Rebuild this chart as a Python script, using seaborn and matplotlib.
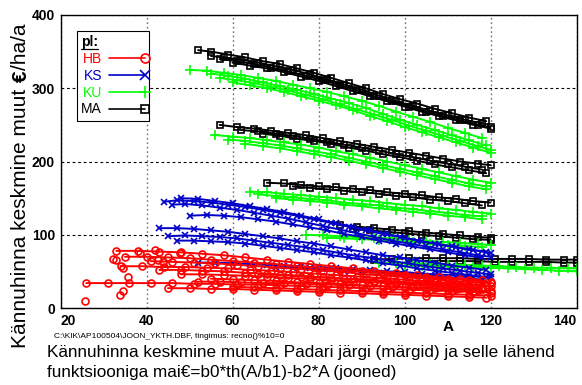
import numpy as np
import pandas as pd
import matplotlib
matplotlib.use("Agg")
import matplotlib.pyplot as plt
from matplotlib.lines import Line2D
from matplotlib.legend_handler import HandlerLine2D
import seaborn as sns

# ---------------------------------------------------------------------------
# Stand-level stump price change (EUR/ha/a) by age A, one list entry per stand:
# (ages, values)
# ---------------------------------------------------------------------------
MA_lines = [
    ([52, 55, 59, 63, 67, 71, 75, 79, 83, 87, 91, 95, 99, 103, 107, 111, 115, 119],
     [352, 350, 346, 342, 337, 333, 327, 321, 314, 307, 300, 292, 285, 279, 272, 266, 260, 255]),
    ([55, 58, 62, 66, 70, 74, 78, 82, 86, 90, 94, 98, 102, 106, 110, 114, 118],
     [344, 342, 339, 335, 330, 325, 319, 312, 305, 298, 290, 282, 276, 269, 263, 257, 252]),
    ([57, 61, 65, 69, 73, 77, 81, 85, 89, 93, 97, 101, 105, 109, 113, 117, 120],
     [340, 337, 333, 328, 323, 317, 311, 304, 297, 289, 282, 275, 268, 262, 256, 250, 247]),
    ([60, 64, 68, 72, 76, 80, 84, 88, 92, 96, 100, 104, 108, 112, 116, 120],
     [335, 331, 327, 322, 316, 310, 303, 296, 289, 282, 275, 268, 262, 256, 250, 245]),
    ([57, 61, 65, 69, 73, 77, 81, 85, 89, 93, 97, 101, 105, 109, 113, 117, 120],
     [250, 247, 245, 242, 239, 236, 232, 228, 224, 220, 216, 212, 208, 204, 200, 197, 195]),
    ([62, 66, 70, 74, 78, 82, 86, 90, 94, 98, 102, 106, 110, 114, 118],
     [243, 241, 238, 235, 231, 227, 223, 219, 215, 210, 206, 201, 197, 193, 189]),
    ([67, 71, 75, 79, 83, 87, 91, 95, 99, 103, 107, 111, 115, 119],
     [238, 235, 231, 228, 224, 219, 215, 210, 206, 201, 196, 192, 188, 184]),
    ([68, 72, 76, 80, 84, 88, 92, 96, 100, 104, 108, 112, 116, 120],
     [171, 170, 168, 166, 165, 163, 161, 158, 156, 154, 151, 149, 146, 144]),
    ([74, 78, 82, 86, 90, 94, 98, 102, 106, 110, 114, 118],
     [166, 164, 162, 160, 158, 156, 153, 151, 148, 146, 143, 140]),
    ([85, 89, 93, 97, 101, 105, 109, 113, 117, 120],
     [113, 111, 109, 107, 105, 103, 101, 99, 97, 96]),
    ([88, 92, 96, 100, 104, 108, 112, 116, 120],
     [108, 106, 104, 102, 100, 98, 96, 94, 93]),
    ([93, 97, 101, 105, 109, 113, 117, 121, 125, 129, 133, 137, 140],
     [66, 67, 68, 68, 68, 68, 67, 67, 67, 67, 66, 66, 66]),
    ([105, 109, 113, 117, 121, 125, 129, 133, 137, 140],
     [64, 64, 64, 64, 63, 63, 63, 63, 62, 62]),
]

KU_lines = [
    ([50, 54, 58, 62, 66, 70, 74, 78, 82, 86, 90, 94, 98, 102, 106, 110, 114, 118],
     [325, 324, 321, 318, 314, 310, 305, 300, 295, 289, 283, 276, 268, 261, 254, 246, 239, 232]),
    ([55, 59, 63, 67, 71, 75, 79, 83, 87, 91, 95, 99, 103, 107, 111, 115, 119],
     [320, 317, 313, 308, 303, 298, 292, 286, 280, 273, 265, 257, 250, 243, 236, 229, 222]),
    ([57, 61, 65, 69, 73, 77, 81, 85, 89, 93, 97, 101, 105, 109, 113, 117, 120],
     [314, 311, 307, 302, 297, 291, 285, 278, 271, 264, 257, 249, 242, 235, 228, 221, 216]),
    ([60, 64, 68, 72, 76, 80, 84, 88, 92, 96, 100, 104, 108, 112, 116, 120],
     [308, 304, 300, 295, 289, 283, 277, 270, 262, 255, 247, 240, 233, 226, 219, 212]),
    ([56, 60, 64, 68, 72, 76, 80, 84, 88, 92, 96, 100, 104, 108, 112, 116, 120],
     [236, 234, 232, 229, 226, 223, 219, 214, 210, 205, 200, 195, 190, 185, 180, 175, 171]),
    ([59, 63, 67, 71, 75, 79, 83, 87, 91, 95, 99, 103, 107, 111, 115, 119],
     [230, 228, 225, 222, 218, 214, 210, 205, 200, 195, 190, 185, 180, 175, 170, 166]),
    ([63, 67, 71, 75, 79, 83, 87, 91, 95, 99, 103, 107, 111, 115, 119],
     [224, 221, 218, 214, 210, 206, 201, 196, 191, 186, 181, 176, 171, 166, 162]),
    ([64, 68, 72, 76, 80, 84, 88, 92, 96, 100, 104, 108, 112, 116, 120],
     [159, 158, 156, 154, 152, 150, 148, 146, 143, 141, 139, 136, 134, 131, 129]),
    ([66, 70, 74, 78, 82, 86, 90, 94, 98, 102, 106, 110, 114, 118],
     [155, 153, 151, 149, 147, 144, 142, 140, 137, 135, 132, 130, 127, 125]),
    ([70, 74, 78, 82, 86, 90, 94, 98, 102, 106, 110, 114, 118],
     [150, 148, 146, 144, 141, 139, 136, 134, 131, 129, 126, 124, 121]),
    ([77, 81, 85, 89, 93, 97, 101, 105, 109, 113, 117, 120],
     [100, 99, 98, 97, 96, 95, 93, 92, 90, 89, 87, 86]),
    ([82, 86, 90, 94, 98, 102, 106, 110, 114, 118],
     [96, 95, 94, 93, 91, 90, 88, 86, 85, 83]),
    ([94, 98, 102, 106, 110, 114, 118, 122, 126, 130, 134, 138, 140],
     [62, 61, 61, 60, 59, 59, 58, 57, 56, 55, 55, 54, 54]),
    ([100, 104, 108, 112, 116, 120, 124, 128, 132, 136, 140],
     [58, 58, 57, 56, 56, 55, 54, 53, 52, 51, 50]),
]

KS_lines = [
    ([44, 47, 51, 55, 59, 63, 67, 71, 75, 79, 83, 87, 91, 95, 99, 103, 107, 111, 115, 119],
     [145, 147, 146, 144, 141, 138, 134, 130, 126, 121, 116, 111, 106, 101, 97, 92, 88, 84, 80, 77]),
    ([46, 49, 53, 57, 61, 65, 69, 73, 77, 81, 85, 89, 93, 97, 101, 105, 109, 113, 117, 120],
     [141, 142, 140, 137, 134, 130, 126, 122, 117, 112, 107, 102, 97, 92, 88, 84, 80, 76, 72, 70]),
    ([50, 54, 58, 62, 66, 70, 74, 78, 82, 86, 90, 94, 98, 102, 106, 110, 114, 118],
     [126, 127, 126, 124, 121, 118, 114, 110, 106, 101, 97, 92, 88, 84, 80, 76, 72, 69]),
    ([48, 52, 56, 60, 64, 68, 72, 76, 80, 84, 88, 92, 96, 100, 104, 108, 112, 116, 120],
     [150, 149, 146, 143, 139, 135, 131, 126, 121, 116, 111, 106, 101, 96, 91, 87, 83, 79, 75]),
    ([43, 47, 51, 55, 59, 63, 67, 71, 75, 79, 83, 87, 91, 95, 99, 103, 107, 111, 115, 119],
     [109, 109, 108, 106, 104, 101, 98, 95, 91, 88, 84, 80, 76, 72, 69, 65, 62, 58, 55, 52]),
    ([45, 49, 53, 57, 61, 65, 69, 73, 77, 81, 85, 89, 93, 97, 101, 105, 109, 113, 117, 120],
     [98, 99, 98, 97, 95, 92, 89, 86, 83, 79, 75, 71, 68, 64, 61, 57, 54, 51, 48, 46]),
    ([47, 51, 55, 59, 63, 67, 71, 75, 79, 83, 87, 91, 95, 99, 103, 107, 111, 115, 119],
     [92, 92, 91, 90, 88, 85, 82, 79, 76, 72, 69, 65, 61, 58, 54, 51, 48, 45, 42]),
    ([52, 56, 60, 64, 68, 72, 76, 80, 84, 88, 92, 96, 100, 104, 108, 112, 116, 120],
     [62, 62, 61, 60, 59, 58, 57, 55, 54, 53, 52, 50, 49, 47, 46, 44, 43, 42]),
    ([70, 74, 78, 82, 86, 90, 94, 98, 102, 106, 110, 114, 118],
     [56, 55, 54, 53, 51, 50, 48, 47, 45, 44, 42, 40, 39]),
]

HB_lines = [
    ([33, 38, 43, 48, 53, 58, 63, 68, 73, 78, 83, 88, 93, 98, 103, 108, 113, 118],
     [78, 78, 77, 76, 74, 72, 69, 66, 63, 60, 57, 54, 51, 48, 45, 42, 40, 38]),
    ([35, 40, 45, 50, 55, 60, 65, 70, 75, 80, 85, 90, 95, 100, 105, 110, 115, 120],
     [70, 70, 69, 68, 66, 64, 62, 60, 57, 55, 52, 50, 47, 45, 42, 40, 38, 36]),
    ([41, 46, 51, 56, 61, 66, 71, 76, 81, 86, 91, 96, 101, 106, 111, 116, 120],
     [64, 63, 62, 61, 59, 57, 55, 53, 51, 49, 46, 44, 42, 40, 37, 35, 34]),
    ([34, 39, 44, 49, 54, 59, 64, 69, 74, 79, 84, 89, 94, 99, 104, 109, 114, 119],
     [57, 57, 56, 56, 55, 54, 52, 51, 49, 47, 45, 43, 41, 39, 37, 35, 33, 31]),
    ([43, 48, 53, 58, 63, 68, 73, 78, 83, 88, 93, 98, 103, 108, 113, 118],
     [52, 52, 51, 50, 48, 47, 45, 43, 41, 39, 37, 35, 33, 31, 29, 28]),
    ([48, 53, 58, 63, 68, 73, 78, 83, 88, 93, 98, 103, 108, 113, 118],
     [46, 46, 45, 44, 43, 41, 40, 38, 36, 35, 33, 31, 29, 27, 26]),
    ([26, 31, 36, 41, 46, 51, 56, 61, 66, 71, 76, 81, 86, 91, 96, 101, 106, 111, 116, 120],
     [34, 34, 34, 34, 34, 33, 33, 32, 32, 31, 30, 29, 28, 27, 26, 25, 24, 23, 22, 21]),
    ([55, 60, 65, 70, 75, 80, 85, 90, 95, 100, 105, 110, 115, 120],
     [40, 39, 38, 37, 35, 34, 33, 31, 30, 28, 27, 25, 24, 23]),
    ([60, 65, 70, 75, 80, 85, 90, 95, 100, 105, 110, 115, 120],
     [29, 28, 27, 26, 25, 24, 23, 22, 21, 20, 19, 18, 17]),
    ([45, 50, 55, 60, 65, 70, 75, 80, 85, 90, 95, 100, 105, 110, 115, 119],
     [27, 27, 26, 26, 25, 24, 23, 22, 21, 20, 19, 18, 17, 16, 15, 14]),
    ([66, 71, 76, 81, 86, 91, 96, 101, 106, 111, 116, 120],
     [46, 45, 43, 42, 40, 39, 37, 35, 34, 32, 31, 30]),
    ([52, 57, 62, 67, 72, 77, 82, 87, 92, 97, 102, 107, 112, 117],
     [36, 36, 35, 34, 34, 33, 32, 31, 30, 29, 28, 27, 26, 25]),
]

# single HB measurements of young stands (no fitted line)
HB_points_A = [25.7, 32.3, 32.8, 33.8, 34.6, 34.6, 35.8, 42.0, 38.5, 42.7, 43.8, 47.8]
HB_points_V = [9.5, 67, 65, 18, 23, 54, 42, 79, 75, 65, 63, 75]

species = ["HB", "KS", "KU", "MA"]
colors = {"HB": "#ff0000", "KS": "#0000c8", "KU": "#00ff00", "MA": "#000000"}
markers = {"HB": "o", "KS": "x", "KU": "+", "MA": "s"}
msizes = {"HB": 5, "KS": 5, "KU": 7, "MA": 4.8}

# long table: one row per measurement, 'unit' separates the stands
rows = []
unit = 0
for sp, lines in [("MA", MA_lines), ("KU", KU_lines), ("KS", KS_lines), ("HB", HB_lines)]:
    for ages, vals in lines:
        for a, v in zip(ages, vals):
            rows.append((sp, unit, a, v))
        unit += 1
for a, v in zip(HB_points_A, HB_points_V):
    rows.append(("HB", unit, a, v))
    unit += 1
df = pd.DataFrame(rows, columns=["pl", "unit", "A", "V"])

sns.set_theme(style="white")
plt.rcParams["font.family"] = ["Liberation Sans", "DejaVu Sans"]
plt.rcParams["text.color"] = "black"

fig = plt.figure(figsize=(5.82, 3.85), dpi=100)
fig.patch.set_facecolor("white")
ax = fig.add_axes([60.5 / 582, 1 - 308 / 385, 516 / 582, 293 / 385])

for sp in ["MA", "KU", "KS", "HB"]:
    c = colors[sp]
    sns.lineplot(data=df[df["pl"] == sp], x="A", y="V", units="unit", estimator=None,
                 sort=False, color=c, marker=markers[sp], ms=msizes[sp],
                 mfc="none", mec=c, mew=1.2, lw=1.4, legend=False, ax=ax)

ax.set_xlim(20, 140)
ax.set_ylim(0, 400)
ax.set_xticks([20, 40, 60, 80, 100, 120, 140])
ax.set_yticks([0, 100, 200, 300, 400])
ax.set_xlabel("")
ax.set_ylabel("")
ax.tick_params(length=0, labelsize=10, pad=4, colors="black")
for lab in ax.get_xticklabels() + ax.get_yticklabels():
    lab.set_fontweight("bold")
xl = ax.get_xticklabels()
xl[0].set_horizontalalignment("left")
xl[-1].set_horizontalalignment("right")

ax.set_axisbelow(True)
ax.xaxis.grid(True, color="#707070", linestyle=(0, (1.2, 2.0)), lw=1.0)
ax.yaxis.grid(True, color="black", linestyle=(0, (2.5, 2.5)), lw=0.8)
for s in ax.spines.values():
    s.set_color("black")
    s.set_linewidth(1.0)


class EndMarkerHandler(HandlerLine2D):
    """Legend handle: a line with the marker drawn at its right end."""

    def create_artists(self, legend, orig_handle, xdescent, ydescent, width,
                       height, fontsize, trans):
        xdata = np.array([-xdescent, -xdescent + width])
        ydata = np.full(2, (height - ydescent) / 2)
        c = orig_handle.get_color()
        line = Line2D(xdata, ydata, color=c, lw=orig_handle.get_linewidth())
        mark = Line2D([xdata[-1]], [ydata[0]], ls="none",
                      marker=orig_handle.get_marker(),
                      ms=orig_handle.get_markersize() * 1.3,
                      mfc="none", mec=c, mew=1.2)
        line.set_transform(trans)
        mark.set_transform(trans)
        return [line, mark]


handles = [Line2D([], [], color=colors[s], marker=markers[s], lw=1.2,
                  ms=msizes[s], mfc="none", mec=colors[s]) for s in species]
leg = ax.legend(handles, species, loc="upper left", bbox_to_anchor=(0.032, 0.945),
                borderaxespad=0, title="pl:", alignment="left",
                title_fontproperties={"weight": "bold", "size": 10},
                fontsize=10, markerfirst=False, handlelength=2.6,
                handletextpad=0.5, labelspacing=0.2, borderpad=0.3,
                fancybox=False, framealpha=1, edgecolor="black",
                labelcolor=[colors[s] for s in species],
                handler_map={Line2D: EndMarkerHandler()})
leg.get_frame().set_linewidth(0.8)
leg.get_title().set_color("black")

fig.text(448 / 582, 1 - 327 / 385, "A", ha="center", va="center",
         fontsize=11, fontweight="bold")
fig.text(54 / 582, 1 - 336 / 385,
         r"C:\KIK\AP100504\JOON_YKTH.DBF, tingimus: recno()%10=0",
         ha="left", va="center", fontsize=6)
fig.text(47 / 582, 1 - 352 / 385,
         "Kännuhinna keskmine muut A. Padari järgi (märgid) ja selle lähend",
         ha="left", va="center", fontsize=12.3)
fig.text(47 / 582, 1 - 373 / 385,
         "funktsiooniga mai€=b0*th(A/b1)-b2*A (jooned)",
         ha="left", va="center", fontsize=12.3)

# rotated y-axis title, euro sign in bold
t1 = fig.text(21 / 582, 1 - 348 / 385, "Kännuhinna keskmine muut",
              rotation=90, ha="center", va="bottom", fontsize=15)
t2 = ax.annotate("€", xy=(0.5, 1), xycoords=t1, xytext=(0, 5),
                 textcoords="offset points", rotation=90, ha="center",
                 va="bottom", fontsize=15, fontweight="bold",
                 annotation_clip=False)
t3 = ax.annotate("/ha/a", xy=(0.5, 1), xycoords=t2, xytext=(0, 0),
                 textcoords="offset points", rotation=90, ha="center",
                 va="bottom", fontsize=15, annotation_clip=False)

# underline the legend title
fig.canvas.draw()
bb = leg.get_title().get_window_extent()
inv = fig.transFigure.inverted()
(x0, y0), (x1, _) = inv.transform([(bb.x0, bb.y0 + 0.5), (bb.x1, bb.y0)])
fig.add_artist(Line2D([x0, x1], [y0, y0], transform=fig.transFigure,
                      color="black", lw=0.9))

fig.savefig("out.png", dpi=100, facecolor="white")
